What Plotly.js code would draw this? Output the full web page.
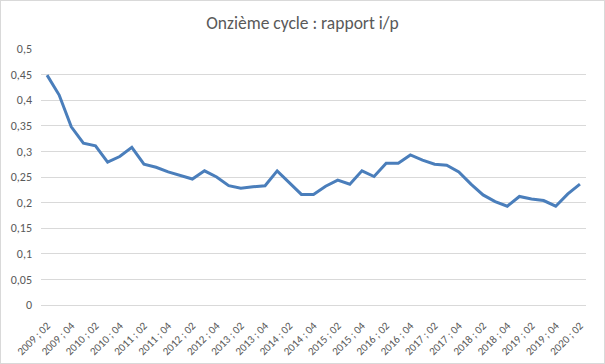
<!DOCTYPE html>
<html><head><meta charset="utf-8">
<script src="https://cdn.plot.ly/plotly-3.0.1.min.js"></script>
<style>html,body{margin:0;padding:0;background:#fff}#chart{width:605px;height:364px;box-sizing:border-box;border:1px solid #d9d9d9}</style>
</head><body><div id="chart"></div>
<script>
const categories = [
 "2009 ; 02","2009 ; 03","2009 ; 04","2010 ; 01","2010 ; 02","2010 ; 03","2010 ; 04","2011 ; 01",
 "2011 ; 02","2011 ; 03","2011 ; 04","2012 ; 01","2012 ; 02","2012 ; 03","2012 ; 04","2013 ; 01",
 "2013 ; 02","2013 ; 03","2013 ; 04","2014 ; 01","2014 ; 02","2014 ; 03","2014 ; 04","2015 ; 01",
 "2015 ; 02","2015 ; 03","2015 ; 04","2016 ; 01","2016 ; 02","2016 ; 03","2016 ; 04","2017 ; 01",
 "2017 ; 02","2017 ; 03","2017 ; 04","2018 ; 01","2018 ; 02","2018 ; 03","2018 ; 04","2019 ; 01",
 "2019 ; 02","2019 ; 03","2019 ; 04","2020 ; 01","2020 ; 02"];
const ratio = [
 0.449,0.410,0.348,0.316,0.311,0.279,0.290,0.308,
 0.275,0.269,0.260,0.253,0.246,0.262,0.250,0.233,
 0.228,0.231,0.233,0.262,0.238,0.216,0.216,0.232,
 0.244,0.236,0.262,0.251,0.277,0.277,0.293,0.283,
 0.275,0.273,0.260,0.236,0.215,0.202,0.193,0.212,
 0.207,0.204,0.193,0.217,0.236];
const tickLabels = categories.filter((c,i)=>i%2===0);
const yTicks = [0,0.05,0.1,0.15,0.2,0.25,0.3,0.35,0.4,0.45,0.5];

const fontFam = 'Carlito, "Noto Sans", "Open Sans", sans-serif';
Plotly.newPlot('chart', [{
  x: categories, y: ratio, type: 'scatter', mode: 'lines',
  line: {color: '#4a7ebb', width: 3}, hoverinfo: 'skip'
}], {
  width: 603, height: 362,
  margin: {l: 40, r: 18, t: 48, b: 58, pad: 0},
  paper_bgcolor: '#fff', plot_bgcolor: '#fff',
  separators: ', ',
  showlegend: false,
  font: {family: fontFam, color: '#595959', size: 12},
  title: {text: 'Onzième cycle : rapport i/p', x: 0.5, xanchor: 'center', y: 0.94, yanchor: 'middle',
          font: {family: fontFam, size: 17.5, color: '#595959'}},
  xaxis: {type: 'category', tickvals: tickLabels, ticktext: tickLabels, tickangle: -45,
          showgrid: false, showline: true, linecolor: '#d9d9d9', linewidth: 1,
          ticks: '', zeroline: false, range: [-0.5, categories.length - 0.5], automargin: false,
          ticklabelstandoff: 9,
          tickfont: {family: fontFam, size: 11, color: '#595959'}},
  yaxis: {range: [0, 0.5], tickvals: yTicks, showgrid: true, gridcolor: '#d9d9d9', gridwidth: 1,
          zeroline: false, showline: false, ticks: '', ticklabelstandoff: 8, automargin: false,
          tickfont: {family: fontFam, size: 12, color: '#595959'}}
}, {displayModeBar: false, staticPlot: true});
</script></body></html>
